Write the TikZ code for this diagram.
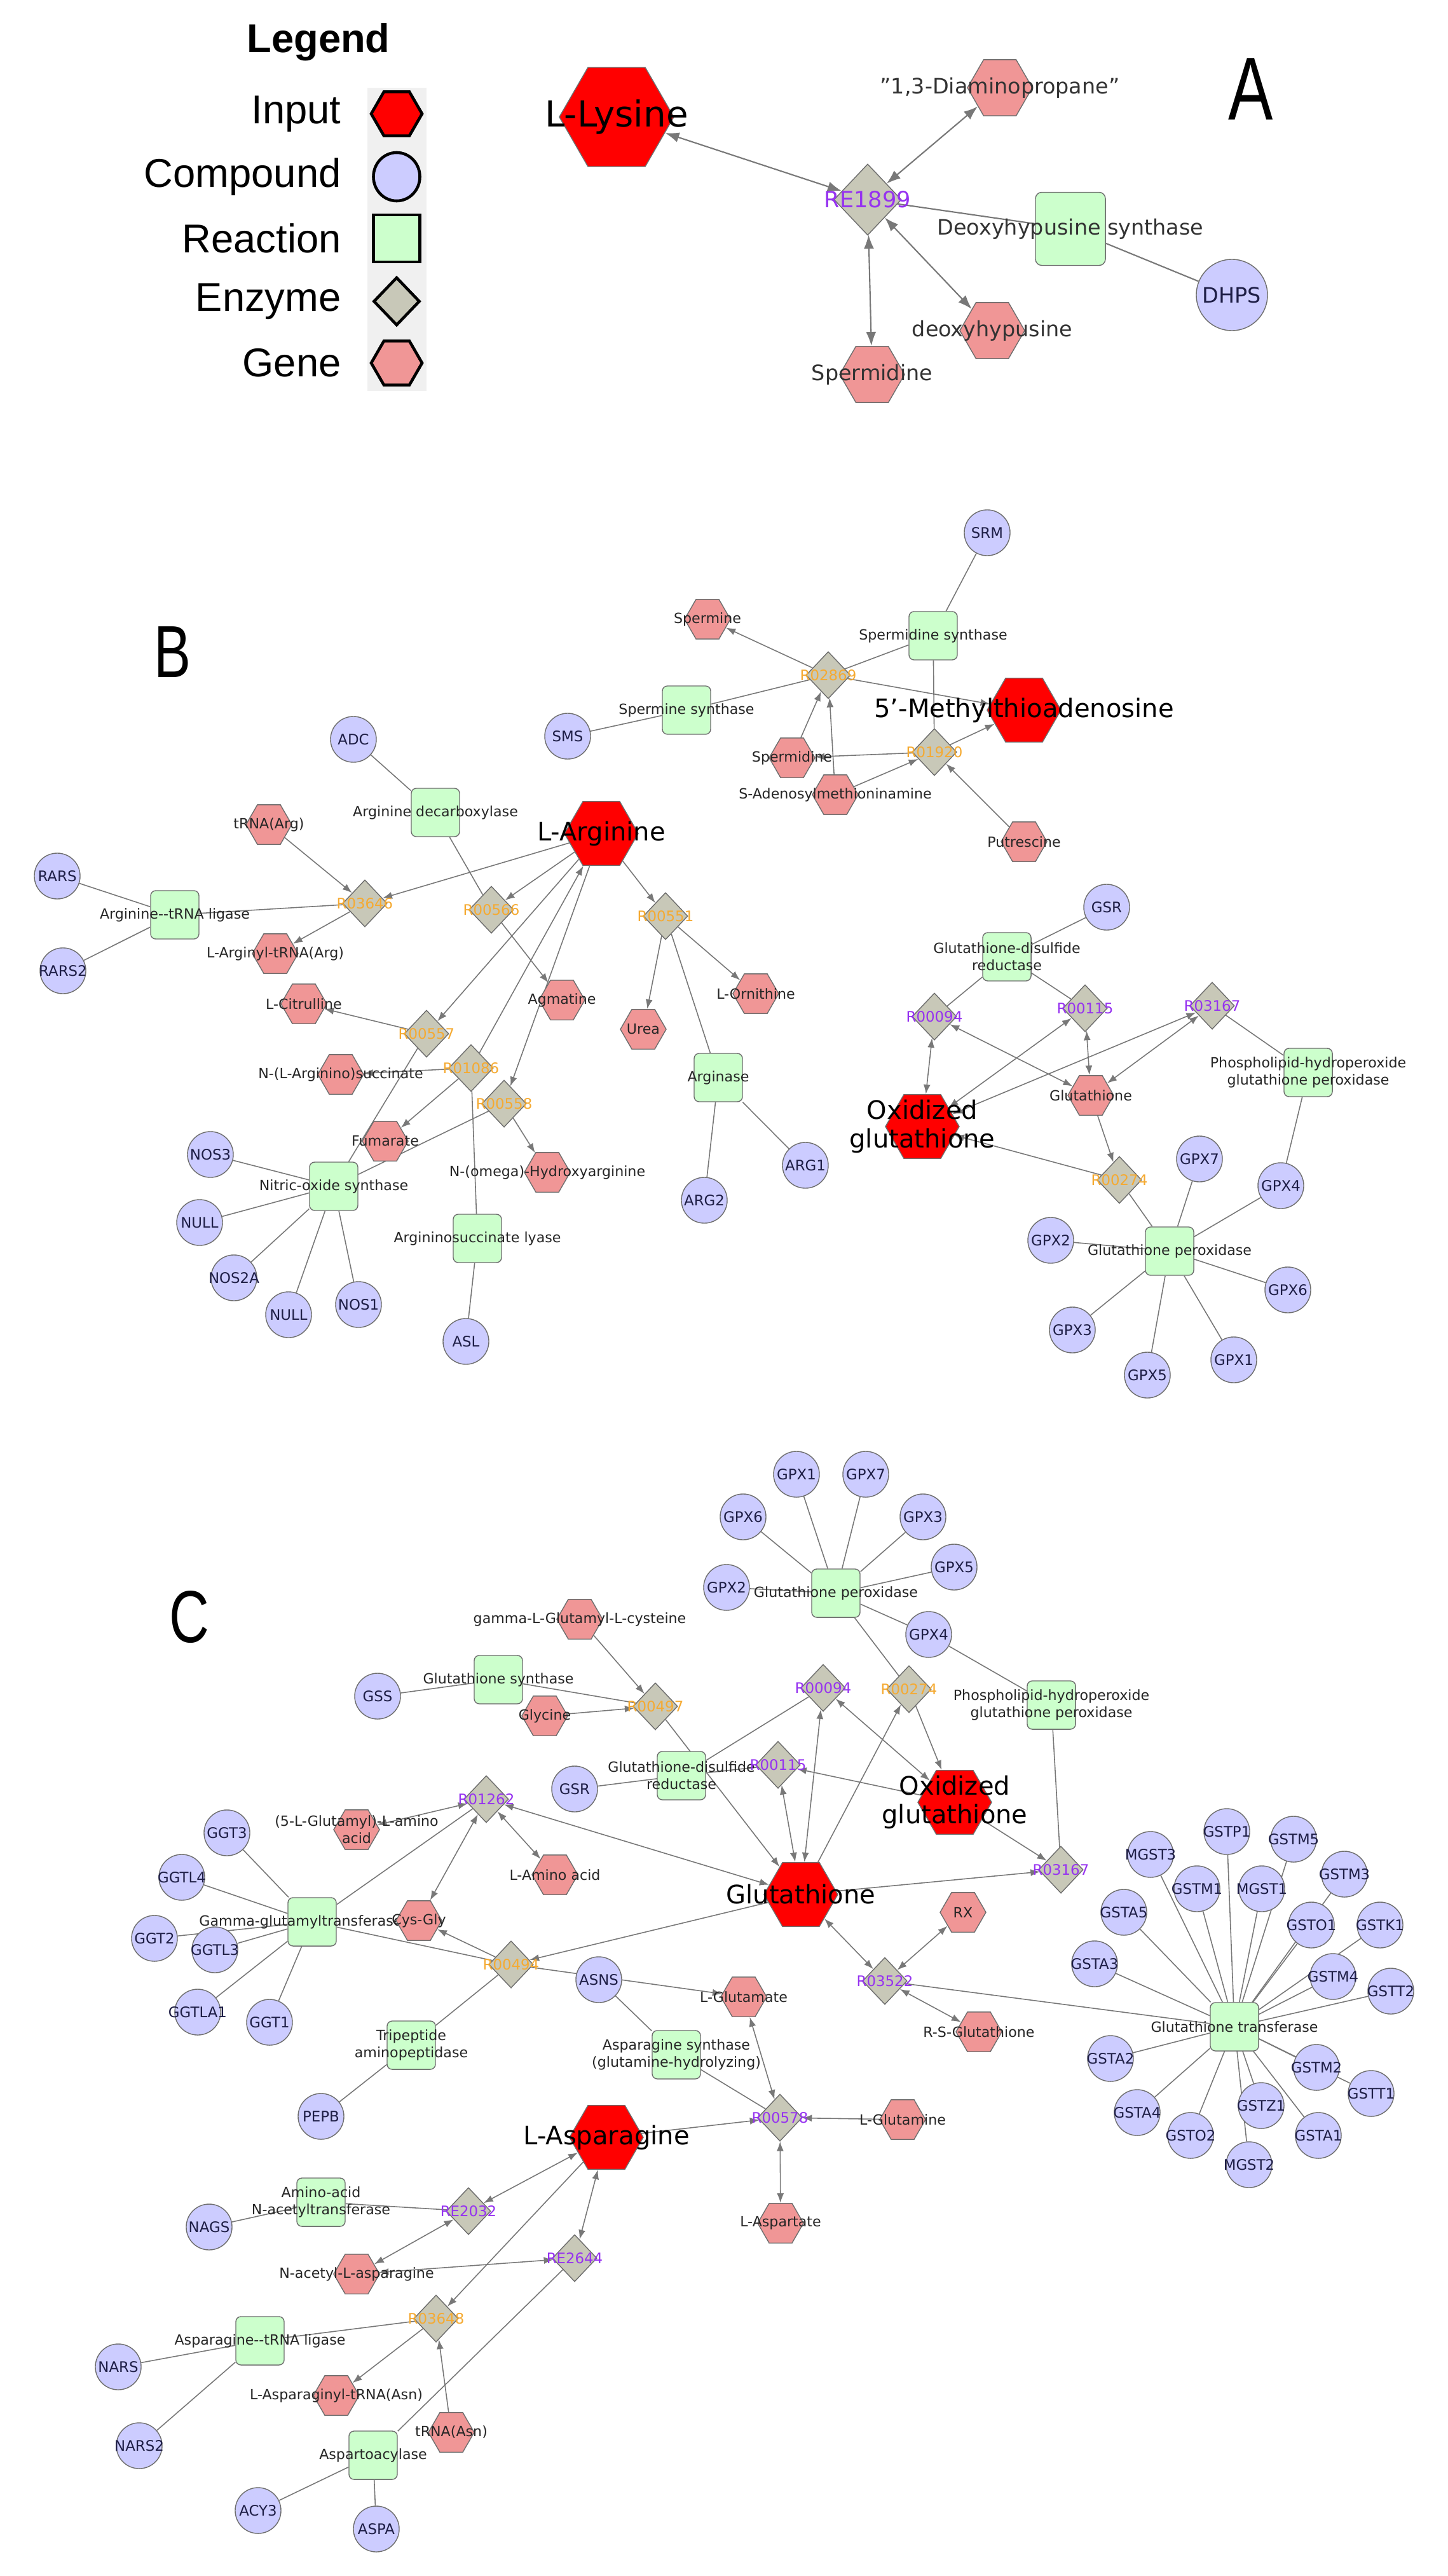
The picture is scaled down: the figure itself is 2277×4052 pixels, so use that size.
\documentclass[tikz,border=0pt]{standalone}
\usepackage{fontspec}
\setmainfont{DejaVu Sans}
\newfontfamily\lsans{Liberation Sans}
\usetikzlibrary{shapes.geometric,arrows.meta,backgrounds}
\definecolor{cmpfill}{RGB}{204,204,255}
\definecolor{rxnfill}{RGB}{204,255,204}
\definecolor{enzfill}{RGB}{200,200,184}
\definecolor{genefill}{RGB}{240,150,150}
\definecolor{inpfill}{RGB}{255,0,0}
\definecolor{edgegray}{RGB}{120,120,120}
\definecolor{bordergray}{RGB}{110,110,110}
\definecolor{purp}{RGB}{150,50,240}
\definecolor{orng}{RGB}{245,170,50}
\definecolor{navy}{RGB}{30,30,70}
\tikzset{
 edge/.style={draw=edgegray,line width=0.45pt},
 arr/.style={edge,-{Latex[length=1.5mm,width=1.1mm]}},
 barr/.style={edge,{Latex[length=1.5mm,width=1.1mm]}-{Latex[length=1.5mm,width=1.1mm]}},
 lab/.style={font=\fontsize{6.3}{7.6}\selectfont,text=black!85,align=center},
 cmplab/.style={font=\fontsize{6.5}{7.6}\selectfont,text=navy},
 enzlab/.style={font=\fontsize{6.5}{7.6}\selectfont},
 biglab/.style={font=\fontsize{11.4}{13}\selectfont,text=black,align=center},
 cmp/.style={circle,fill=cmpfill,draw=bordergray,minimum size=7.2mm,inner sep=0,label={[cmplab]center:{#1}}},
 rxn/.style={rectangle,rounded corners=0.8mm,fill=rxnfill,draw=bordergray,minimum size=7.6mm,inner sep=0,label={[lab]center:{#1}}},
 enzp/.style={diamond,fill=enzfill,draw=bordergray,minimum width=7mm,minimum height=7.4mm,inner sep=0,label={[enzlab,text=purp]center:{#1}}},
 enzo/.style={diamond,fill=enzfill,draw=bordergray,minimum width=7mm,minimum height=7.4mm,inner sep=0,label={[enzlab,text=orng]center:{#1}}},
 gene/.style={regular polygon,regular polygon sides=6,fill=genefill,draw=bordergray,minimum size=7.2mm,inner sep=0,label={[lab]center:{#1}}},
 inp/.style={regular polygon,regular polygon sides=6,fill=inpfill,draw=bordergray,minimum size=11.6mm,inner sep=0,label={[biglab]center:{#1}}},
 panel/.style={font=\lsans\fontsize{40}{40}\selectfont,xscale=0.75},
 leglab/.style={font=\lsans\fontsize{18}{20}\selectfont,anchor=east},
 legshape/.style={draw=black,line width=1.3pt,inner sep=0},
 alab/.style={font=\fontsize{9.5}{11}\selectfont,text=black!80,align=center},
}
\begin{document}
\begin{tikzpicture}[x=0.01cm,y=-0.01cm]
\useasboundingbox (0,0) rectangle (2277,4052);
% ---------- Legend ----------
\node[font=\lsans\bfseries\fontsize{18}{20}\selectfont] (legt) at (501,66) {Legend};
\fill[gray!12] (578,138) rectangle (671,615);
\node[legshape,regular polygon,regular polygon sides=6,fill=inpfill,minimum size=8mm] (lg1) at (624,179) {};
\node[legshape,ellipse,fill=cmpfill,minimum width=7.3mm,minimum height=7.6mm] (lg2) at (624,278) {};
\node[legshape,rectangle,fill=rxnfill,minimum width=7.3mm,minimum height=7.4mm] (lg3) at (624,375) {};
\node[legshape,diamond,fill=enzfill,minimum width=7.3mm,minimum height=7.6mm] (lg4) at (624,474) {};
\node[legshape,regular polygon,regular polygon sides=6,fill=genefill,minimum size=8mm] (lg5) at (624,571) {};
\node[leglab] (ll1) at (549,179) {Input};
\node[leglab] (ll2) at (549,278) {Compound};
\node[leglab] (ll3) at (549,375) {Reaction};
\node[leglab] (ll4) at (549,474) {Enzyme};
\node[leglab] (ll5) at (549,571) {Gene};
% panel letters
\node[panel] (pA) at (1968,140) {A};
\node[panel,font=\lsans\fontsize{33}{33}\selectfont] (pB) at (272,1026) {B};
\node[panel,font=\lsans\fontsize{33}{33}\selectfont] (pC) at (298,2544) {C};
% ---------- Panel A ----------
\node[inp,minimum size=18mm,label={[biglab,font=\fontsize{16}{18}\selectfont]center:L-Lysine}] (lys) at (970,184) {};
\node[diamond,fill=enzfill,draw=bordergray,minimum width=10.6mm,minimum height=11.2mm,inner sep=0,label={[font=\fontsize{10}{12}\selectfont,text=purp]center:RE1899}] (re1899) at (1365,314) {};
\node[gene,minimum size=10.2mm,label={[alab]center:{\char34 1,3-Diaminopropane\char34}}] (dap) at (1573,138) {};
\node[rectangle,rounded corners=1mm,fill=rxnfill,draw=bordergray,minimum width=11mm,minimum height=11.5mm,label={[alab]center:Deoxyhypusine synthase}] (dhs) at (1684,360) {};
\node[circle,fill=cmpfill,draw=bordergray,minimum size=11.2mm,inner sep=0,label={[font=\fontsize{9.5}{11}\selectfont,text=navy]center:DHPS}] (dhps) at (1938,464) {};
\node[gene,minimum size=10.2mm,label={[alab]center:deoxyhypusine}] (dhyp) at (1561,520) {};
\node[gene,minimum size=10.2mm,label={[alab]center:Spermidine}] (spdA) at (1372,589) {};
% ---------- Panel B ----------
\node[gene=Spermine] (bspm) at (1113,974) {};
\node[rxn=Spermine synthase] (bsmsr) at (1080,1117) {};
\node[cmp=SMS] (bsms) at (893,1158) {};
\node[cmp=SRM] (bsrm) at (1553,838) {};
\node[rxn=Spermidine synthase] (bsdsr) at (1468,1000) {};
\node[enzo=R02869] (b2869) at (1303,1062) {};
\node[inp=5\char39-Methylthioadenosine] (bmta) at (1611,1117) {};
\node[enzo=R01920] (b1920) at (1470,1183) {};
\node[gene=Spermidine] (bspd) at (1246,1192) {};
\node[gene=S-Adenosylmethioninamine] (bsam) at (1314,1250) {};
\node[gene=Putrescine] (bput) at (1611,1324) {};
\node[cmp=ADC] (badc) at (556,1163) {};
\node[rxn=Arginine decarboxylase] (badr) at (685,1278) {};
\node[gene=tRNA(Arg)] (btrna) at (423,1297) {};
\node[inp=L-Arginine] (barg) at (946,1311) {};
\node[cmp=RARS] (brars) at (90,1378) {};
\node[rxn=Arginine-{}-tRNA ligase] (blig) at (275,1439) {};
\node[enzo=R03646] (b3646) at (574,1421) {};
\node[enzo=R00566] (b0566) at (773,1431) {};
\node[enzo=R00551] (b0551) at (1047,1441) {};
\node[cmp=RARS2] (brars2) at (99,1527) {};
\node[gene=L-Arginyl-tRNA(Arg)] (bargt) at (433,1500) {};
\node[gene=L-Citrulline] (bcit) at (478,1579) {};
\node[gene=Agmatine] (bagm) at (884,1573) {};
\node[gene=L-Ornithine] (born) at (1189,1563) {};
\node[gene=Urea] (burea) at (1012,1619) {};
\node[enzo=R00557] (b0557) at (671,1626) {};
\node[enzo=R01086] (b1086) at (741,1680) {};
\node[gene=N-(L-Arginino)succinate] (basuc) at (536,1690) {};
\node[rxn=Arginase] (bargase) at (1130,1695) {};
\node[enzo=R00558] (b0558) at (793,1736) {};
\node[gene=Fumarate] (bfum) at (606,1795) {};
\node[gene=N-(omega)-Hydroxyarginine] (bnoh) at (861,1844) {};
\node[cmp=NOS3] (bnos3) at (331,1816) {};
\node[rxn=Nitric-oxide synthase] (bnos) at (525,1866) {};
\node[cmp=ARG2] (barg2) at (1108,1888) {};
\node[cmp=ARG1] (barg1) at (1267,1833) {};
\node[cmp=NULL] (bnull1) at (314,1923) {};
\node[rxn=Argininosuccinate lyase] (blyase) at (751,1948) {};
\node[cmp=NOS2A] (bnos2a) at (368,2010) {};
\node[cmp=NULL] (bnull2) at (454,2068) {};
\node[cmp=NOS1] (bnos1) at (564,2052) {};
\node[cmp=ASL] (basl) at (733,2110) {};
\node[cmp=GSR] (bgsr) at (1741,1427) {};
\node[rxn={Glutathione-disulfide\\reductase}] (bgdr) at (1584,1505) {};
\node[enzp=R00094] (b0094) at (1470,1599) {};
\node[enzp=R00115] (b0115) at (1707,1586) {};
\node[enzp=R03167] (b3167) at (1907,1582) {};
\node[gene=Glutathione] (bgsh) at (1716,1723) {};
\node[rxn={Phospholipid-hydroperoxide\\glutathione peroxidase}] (bphr) at (2058,1687) {};
\node[inp={Oxidized\\glutathione}] (boxg) at (1451,1772) {};
\node[enzo=R00274] (b0274) at (1761,1856) {};
\node[cmp=GPX7] (bgpx7) at (1887,1823) {};
\node[cmp=GPX4] (bgpx4) at (2015,1865) {};
\node[cmp=GPX2] (bgpx2) at (1653,1951) {};
\node[rxn=Glutathione peroxidase] (bgpr) at (1840,1968) {};
\node[cmp=GPX6] (bgpx6) at (2026,2029) {};
\node[cmp=GPX3] (bgpx3) at (1687,2092) {};
\node[cmp=GPX5] (bgpx5) at (1805,2163) {};
\node[cmp=GPX1] (bgpx1) at (1941,2139) {};
% ---------- Panel C ----------
\node[cmp=GPX1] (cgpx1) at (1253,2319) {};
\node[cmp=GPX7] (cgpx7) at (1362,2319) {};
\node[cmp=GPX6] (cgpx6) at (1169,2386) {};
\node[cmp=GPX3] (cgpx3) at (1452,2386) {};
\node[cmp=GPX5] (cgpx5) at (1501,2465) {};
\node[cmp=GPX2] (cgpx2) at (1143,2497) {};
\node[rxn=Glutathione peroxidase] (cgpr) at (1315,2506) {};
\node[cmp=GPX4] (cgpx4) at (1461,2571) {};
\node[gene=gamma-L-Glutamyl-L-cysteine] (cg2c) at (912,2547) {};
\node[rxn=Glutathione synthase] (cgsynr) at (784,2642) {};
\node[cmp=GSS] (cgss) at (594,2668) {};
\node[gene=Glycine] (cgly) at (857,2699) {};
\node[enzo=R00497] (c0497) at (1031,2684) {};
\node[enzp=R00094] (c0094) at (1295,2655) {};
\node[enzo=R00274] (c0274) at (1430,2657) {};
\node[rxn={Phospholipid-hydroperoxide\\glutathione peroxidase}] (cphr) at (1654,2682) {};
\node[rxn={Glutathione-disulfide\\reductase}] (cgdr) at (1072,2793) {};
\node[cmp=GSR] (cgsrc) at (904,2814) {};
\node[enzp=R00115] (c0115) at (1224,2776) {};
\node[enzp=R01262] (c1262) at (765,2830) {};
\node[gene={(5-L-Glutamyl)-L-amino\\acid}] (cglam) at (561,2878) {};
\node[inp={Oxidized\\glutathione}] (coxg) at (1502,2835) {};
\node[cmp=GGT3] (cggt3) at (357,2883) {};
\node[cmp=GGTL4] (cggtl4) at (286,2953) {};
\node[gene=L-Amino acid] (clam) at (873,2949) {};
\node[inp=Glutathione] (cgsh) at (1260,2980) {};
\node[enzp=R03167] (c3167) at (1669,2941) {};
\node[rectangle,rounded corners=0.8mm,fill=rxnfill,draw=bordergray,minimum size=7.6mm,inner sep=0,label={[lab,xshift=-0.18cm]center:Gamma-glutamyltransferase}] (cggtr) at (491,3023) {};
\node[gene=Cys-Gly] (ccysgly) at (659,3021) {};
\node[cmp=GGT2] (cggt2) at (243,3049) {};
\node[cmp=GGTL3] (cggtl3) at (338,3067) {};
\node[enzo=R00494] (c0494) at (804,3090) {};
\node[cmp=ASNS] (casns) at (942,3114) {};
\node[gene=RX] (crx) at (1515,3008) {};
\node[enzp=R03522] (c3522) at (1392,3116) {};
\node[gene=L-Glutamate] (cglu) at (1170,3141) {};
\node[gene=R-S-Glutathione] (crsg) at (1540,3196) {};
\node[cmp=GGTLA1] (cggtla1) at (311,3165) {};
\node[cmp=GGT1] (cggt1) at (424,3181) {};
\node[rxn={Tripeptide\\aminopeptidase}] (ctpa) at (647,3217) {};
\node[rxn={Asparagine synthase\\(glutamine-hydrolyzing)}] (casr) at (1064,3232) {};
\node[cmp=PEPB] (cpepb) at (505,3329) {};
\node[enzp=R00578] (c0578) at (1227,3331) {};
\node[gene=L-Glutamine] (cgln) at (1420,3334) {};
\node[inp=L-Asparagine] (casn) at (954,3362) {};
\node[rxn={Amino-acid\\N-acetyltransferase}] (cnatr) at (505,3464) {};
\node[cmp=NAGS] (cnags) at (329,3503) {};
\node[enzp=RE2032] (c2032) at (737,3478) {};
\node[gene=L-Aspartate] (casp) at (1228,3497) {};
\node[enzp=RE2644] (c2644) at (904,3552) {};
\node[gene=N-acetyl-L-asparagine] (cnaa) at (561,3577) {};
\node[enzo=R03648] (c3648) at (686,3647) {};
\node[rxn=Asparagine-{}-tRNA ligase] (calig) at (409,3682) {};
\node[cmp=NARS] (cnars) at (186,3723) {};
\node[gene=L-Asparaginyl-tRNA(Asn)] (cant) at (529,3768) {};
\node[gene=tRNA(Asn)] (ctrn) at (710,3826) {};
\node[cmp=NARS2] (cnars2) at (219,3847) {};
\node[rxn=Aspartoacylase] (caspa) at (587,3862) {};
\node[cmp=ACY3] (cacy3) at (406,3949) {};
\node[cmp=ASPA] (caspa2) at (592,3978) {};
% GST cluster
\node[rxn=Glutathione transferase] (cgstr) at (1942,3188) {};
\node[cmp=MGST3] (g1) at (1810,2917) {};
\node[cmp=GSTP1] (g2) at (1930,2881) {};
\node[cmp=GSTM5] (g3) at (2035,2893) {};
\node[cmp=GSTM1] (g4) at (1883,2971) {};
\node[cmp=MGST1] (g5) at (1985,2971) {};
\node[cmp=GSTM3] (g6) at (2115,2948) {};
\node[cmp=GSTA5] (g7) at (1768,3008) {};
\node[cmp=GSTO1] (g8) at (2063,3028) {};
\node[cmp=GSTK1] (g9) at (2171,3028) {};
\node[cmp=GSTA3] (g10) at (1722,3089) {};
\node[cmp=GSTM4] (g11) at (2097,3109) {};
\node[cmp=GSTT2] (g12) at (2188,3132) {};
\node[cmp=GSTA2] (g13) at (1747,3238) {};
\node[cmp=GSTM2] (g14) at (2071,3252) {};
\node[cmp=GSTT1] (g15) at (2157,3293) {};
\node[cmp=GSTA4] (g16) at (1789,3323) {};
\node[cmp=GSTZ1] (g17) at (1984,3312) {};
\node[cmp=GSTO2] (g18) at (1873,3359) {};
\node[cmp=GSTA1] (g19) at (2074,3359) {};
\node[cmp=MGST2] (g20) at (1965,3405) {};
% ---------- Edges ----------
\begin{scope}[on background layer]
\fill[white] (0,0) rectangle (2277,4052);
\tikzset{Aarr/.style={edge,line width=0.6pt,{Latex[length=2.2mm,width=1.6mm]}-{Latex[length=2.2mm,width=1.6mm]}}}
\draw[Aarr] (lys) -- (re1899);
\draw[Aarr] (re1899) -- (dap);
\draw[Aarr] (re1899) -- (dhyp);
\draw[Aarr] (re1899) -- (spdA);
\draw[edge,line width=0.6pt] (re1899) -- (dhs) -- (dhps);
% B polyamines
\draw[edge] (bsms) -- (bsmsr) -- (b2869);
\draw[edge] (bsrm) -- (bsdsr) -- (b2869);
\draw[edge] (bsdsr) -- (b1920);
\draw[arr] (b2869) -- (bspm);
\draw[arr] (b2869) -- (bmta);
\draw[arr] (bspd) -- (b2869);
\draw[arr] (bsam) -- (b2869);
\draw[arr] (b1920) -- (bspd);
\draw[arr] (bsam) -- (b1920);
\draw[arr] (bput) -- (b1920);
\draw[arr] (b1920) -- (bmta);
% B arginine
\draw[edge] (badc) -- (badr) -- (b0566);
\draw[arr] (barg) -- (b0566);
\draw[arr] (b0566) -- (bagm);
\draw[arr] (barg) -- (b3646);
\draw[arr] (btrna) -- (b3646);
\draw[arr] (b3646) -- (bargt);
\draw[edge] (b3646) -- (blig);
\draw[edge] (brars) -- (blig) -- (brars2);
\draw[arr] (barg) -- (b0551);
\draw[arr] (b0551) -- (burea);
\draw[arr] (b0551) -- (born);
\draw[edge] (b0551) -- (bargase);
\draw[edge] (barg1) -- (bargase) -- (barg2);
\draw[arr] (barg) -- (b0557);
\draw[arr] (b0557) -- (bcit);
\draw[edge] (b0557) -- (bnos);
\draw[arr] (b1086) -- (barg);
\draw[arr] (b1086) -- (basuc);
\draw[arr] (b1086) -- (bfum);
\draw[edge] (b1086) -- (blyase) -- (basl);
\draw[arr] (barg) -- (b0558);
\draw[arr] (b0558) -- (bnoh);
\draw[edge] (b0558) -- (bnos);
\draw[edge] (bnos) -- (bnos3);
\draw[edge] (bnos) -- (bnull1);
\draw[edge] (bnos) -- (bnos2a);
\draw[edge] (bnos) -- (bnull2);
\draw[edge] (bnos) -- (bnos1);
% B glutathione
\draw[edge] (bgsr) -- (bgdr) -- (b0094);
\draw[edge] (bgdr) -- (b0115);
\draw[barr] (b0094) -- (boxg);
\draw[barr] (b0094) -- (bgsh);
\draw[barr] (b0115) -- (boxg);
\draw[barr] (b0115) -- (bgsh);
\draw[barr] (b3167) -- (boxg);
\draw[barr] (b3167) -- (bgsh);
\draw[edge] (b3167) -- (bphr) -- (bgpx4);
\draw[arr] (bgsh) -- (b0274);
\draw[arr] (b0274) -- (boxg);
\draw[edge] (b0274) -- (bgpr);
\foreach \g in {bgpx7,bgpx4,bgpx2,bgpx6,bgpx3,bgpx5,bgpx1} \draw[edge] (bgpr) -- (\g);
% C glutathione peroxidase
\foreach \g in {cgpx1,cgpx7,cgpx6,cgpx3,cgpx5,cgpx2,cgpx4} \draw[edge] (cgpr) -- (\g);
\draw[edge] (cgpr) -- (c0274);
\draw[edge] (cgpx4) -- (cphr) -- (c3167);
\draw[arr] (cg2c) -- (c0497);
\draw[edge] (cgss) -- (cgsynr) -- (c0497);
\draw[arr] (cgly) -- (c0497);
\draw[arr] (c0497) -- (cgsh);
\draw[edge] (cgsrc) -- (cgdr) -- (c0094);
\draw[edge] (cgdr) -- (c0115);
\draw[barr] (c0094) -- (cgsh);
\draw[barr] (c0094) -- (coxg);
\draw[barr] (c0115) -- (cgsh);
\draw[arr] (coxg) -- (c0115);
\draw[arr] (cgsh) -- (c0274);
\draw[arr] (c0274) -- (coxg);
\draw[arr] (coxg) -- (c3167);
\draw[arr] (cgsh) -- (c3167);
% C gamma-glutamyl
\draw[barr] (cglam) -- (c1262);
\draw[barr] (cgsh) -- (c1262);
\draw[barr] (c1262) -- (clam);
\draw[barr] (c1262) -- (ccysgly);
\draw[edge] (cggtr) -- (c1262);
\foreach \g in {cggt3,cggtl4,cggt2,cggtl3,cggtla1,cggt1} \draw[edge] (cggtr) -- (\g);
\draw[edge] (cggtr) -- (c0494);
\draw[arr] (cgsh) -- (c0494);
\draw[arr] (c0494) -- (ccysgly);
\draw[arr] (c0494) -- (cglu);
\draw[edge] (c0494) -- (ctpa) -- (cpepb);
\draw[edge] (casns) -- (casr) -- (c0578);
\draw[barr] (cglu) -- (c0578);
\draw[arr] (cgln) -- (c0578);
\draw[arr] (casn) -- (c0578);
\draw[barr] (c0578) -- (casp);
\draw[barr] (cgsh) -- (c3522);
\draw[barr] (crx) -- (c3522);
\draw[barr] (c3522) -- (crsg);
\draw[edge] (c3522) -- (cgstr);
\foreach \g in {g1,g2,g3,g4,g5,g6,g7,g8,g9,g10,g11,g12,g13,g14,g15,g16,g17,g18,g19,g20} \draw[edge] (cgstr) -- (\g);
% C asparagine
\draw[barr] (casn) -- (c2032);
\draw[edge] (c2032) -- (cnatr) -- (cnags);
\draw[barr] (c2032) -- (cnaa);
\draw[barr] (cnaa) -- (c2644);
\draw[barr] (c2644) -- (casn);
\draw[edge] (c2644) -- (caspa);
\draw[edge] (cacy3) -- (caspa) -- (caspa2);
\draw[arr] (casn) -- (c3648);
\draw[arr] (ctrn) -- (c3648);
\draw[arr] (c3648) -- (cant);
\draw[edge] (c3648) -- (calig);
\draw[edge] (cnars) -- (calig) -- (cnars2);
\end{scope}
\end{tikzpicture}
\end{document}
